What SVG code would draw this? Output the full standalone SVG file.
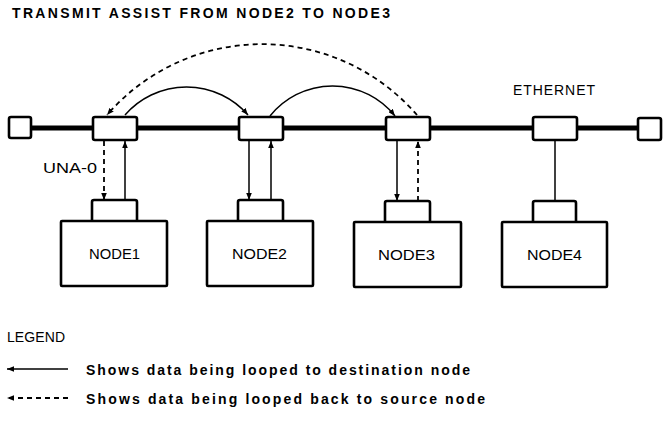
<svg xmlns="http://www.w3.org/2000/svg" width="665" height="424" viewBox="0 0 665 424">
<style>
.t{font-family:"Liberation Sans",Arial,sans-serif;fill:#000}
.b{font-weight:bold}
.box{fill:#fff;stroke:#000;stroke-width:2.6;stroke-linejoin:round}
.ln{fill:none;stroke:#000;stroke-width:1.5}
.ds{fill:none;stroke:#000;stroke-width:1.8;stroke-dasharray:5,4}
.bus{fill:none;stroke:#000;stroke-width:5}
</style>
<defs>
<marker id="ah" viewBox="0 0 10 8" refX="10" refY="4" markerWidth="7" markerHeight="5.6" markerUnits="userSpaceOnUse" orient="auto">
<path d="M0,0 L10,4 L0,8 Z" fill="#000"/>
</marker>
</defs>
<rect width="665" height="424" fill="#fff"/>
<text class="t b" x="12" y="18.3" font-size="14" textLength="378" lengthAdjust="spacing">TRANSMIT ASSIST FROM NODE2 TO NODE3</text>

<g id="bus">
<line class="bus" x1="30" y1="128" x2="638" y2="128"/>
</g>
<g id="term-left"><rect class="box" x="9" y="117" width="22" height="21" rx="2"/></g>
<g id="term-right"><rect class="box" x="638" y="118" width="23" height="22" rx="2"/></g>
<g id="trx1"><rect class="box" x="93" y="117" width="44" height="23" rx="2"/></g>
<g id="trx2"><rect class="box" x="239" y="117" width="44" height="23" rx="2"/></g>
<g id="trx3"><rect class="box" x="386" y="117" width="44" height="23" rx="2"/></g>
<g id="trx4"><rect class="box" x="533" y="117" width="44" height="23" rx="2"/></g>
<text class="t" x="513" y="95" font-size="14" textLength="82" lengthAdjust="spacing">ETHERNET</text>
<text class="t" x="43" y="173" font-size="14.5" textLength="54" lengthAdjust="spacingAndGlyphs">UNA-0</text>

<g id="node1">
<rect class="box" x="92" y="200" width="45" height="22" rx="2"/>
<rect class="box" x="61" y="221" width="106" height="65" rx="1"/>
<text class="t" x="89" y="259" font-size="14" textLength="51" lengthAdjust="spacingAndGlyphs">NODE1</text>
</g>
<g id="node2">
<rect class="box" x="238" y="200" width="45" height="22" rx="2"/>
<rect class="box" x="207" y="221" width="106" height="65" rx="1"/>
<text class="t" x="232" y="259" font-size="14" textLength="55" lengthAdjust="spacingAndGlyphs">NODE2</text>
</g>
<g id="node3">
<rect class="box" x="385" y="201" width="45" height="22" rx="2"/>
<rect class="box" x="354" y="222" width="107" height="65" rx="1"/>
<text class="t" x="378" y="260" font-size="14" textLength="57" lengthAdjust="spacingAndGlyphs">NODE3</text>
</g>
<g id="node4">
<rect class="box" x="533" y="201" width="43" height="22" rx="2"/>
<rect class="box" x="502" y="222" width="105" height="65" rx="1"/>
<text class="t" x="527" y="260" font-size="14" textLength="55" lengthAdjust="spacingAndGlyphs">NODE4</text>
</g>

<g id="connectors">
<path class="ln" d="M125,115 A81.5,81.5 0 0 1 248,115" marker-end="url(#ah)"/>
<path class="ln" d="M270,116 A80,80 0 0 1 395,116" marker-end="url(#ah)"/>
<path class="ds" d="M417,115 A205,205 0 0 0 107,115" marker-end="url(#ah)"/>
<line class="ds" x1="104" y1="141" x2="104" y2="200" marker-end="url(#ah)"/>
<line class="ln" x1="125" y1="200" x2="125" y2="141" marker-end="url(#ah)"/>
<line class="ln" x1="249" y1="141" x2="249" y2="200" marker-end="url(#ah)"/>
<line class="ln" x1="271" y1="200" x2="271" y2="141" marker-end="url(#ah)"/>
<line class="ln" x1="397" y1="141" x2="397" y2="201" marker-end="url(#ah)"/>
<line class="ds" x1="418" y1="201" x2="418" y2="141" marker-end="url(#ah)"/>
<line class="ln" x1="555" y1="141" x2="555" y2="201"/>
</g>

<g id="legend">
<text class="t" x="7" y="342" font-size="14" textLength="58" lengthAdjust="spacing">LEGEND</text>
<line class="ln" x1="68" y1="369" x2="7" y2="369" marker-end="url(#ah)"/>
<text class="t b" x="86" y="375" font-size="14" textLength="384" lengthAdjust="spacing">Shows data being looped to destination node</text>
<line class="ds" x1="68" y1="398" x2="7" y2="398" marker-end="url(#ah)"/>
<text class="t b" x="86" y="404" font-size="14" textLength="399" lengthAdjust="spacing">Shows data being looped back to source node</text>
</g>
</svg>
